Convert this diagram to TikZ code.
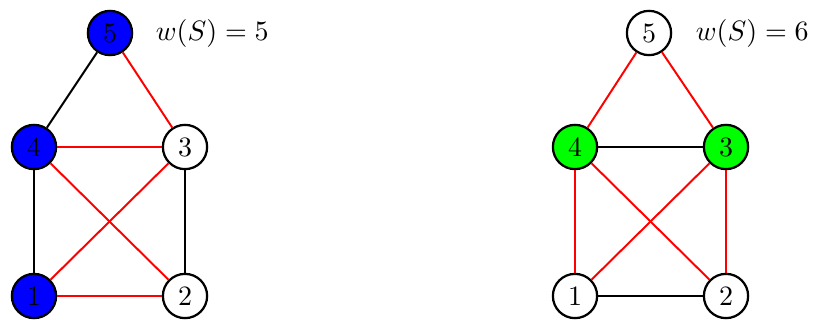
\documentclass[tikz,border=0pt]{standalone}
\begin{document}
\begin{tikzpicture}[x=0.357pt,y=-0.357pt,
  vert/.style={circle,draw=black,line width=0.8pt,minimum size=15.8pt,inner sep=0pt,fill=white},
  sel/.style={vert,fill=blue},
  gsel/.style={vert,fill=green},
  redge/.style={draw=red,line width=0.7pt},
  bedge/.style={draw=black,line width=0.7pt},
  lbl/.style={anchor=west}]
\useasboundingbox (0,0) rectangle (815,320);
% left graph
\node[sel]  (L5) at (110,33) {5};
\node[sel]  (L4) at (34,147) {4};
\node[vert] (L3) at (185,147) {3};
\node[sel]  (L1) at (34,296) {1};
\node[vert] (L2) at (185,296) {2};
\node[lbl] (Lw) at (146,33) {$w(S)=5$};
\draw[bedge] (L5) -- (L4);
\draw[redge] (L5) -- (L3);
\draw[redge] (L4) -- (L3);
\draw[bedge] (L4) -- (L1);
\draw[redge] (L4) -- (L2);
\draw[redge] (L3) -- (L1);
\draw[bedge] (L3) -- (L2);
\draw[redge] (L1) -- (L2);
% right graph
\node[vert] (R5) at (649,33) {5};
\node[gsel] (R4) at (575,147) {4};
\node[gsel] (R3) at (726,147) {3};
\node[vert] (R1) at (575,296) {1};
\node[vert] (R2) at (726,296) {2};
\node[lbl] (Rw) at (686,33) {$w(S)=6$};
\draw[redge] (R5) -- (R4);
\draw[redge] (R5) -- (R3);
\draw[bedge] (R4) -- (R3);
\draw[redge] (R4) -- (R1);
\draw[redge] (R4) -- (R2);
\draw[redge] (R3) -- (R1);
\draw[redge] (R3) -- (R2);
\draw[bedge] (R1) -- (R2);
\end{tikzpicture}
\end{document}
